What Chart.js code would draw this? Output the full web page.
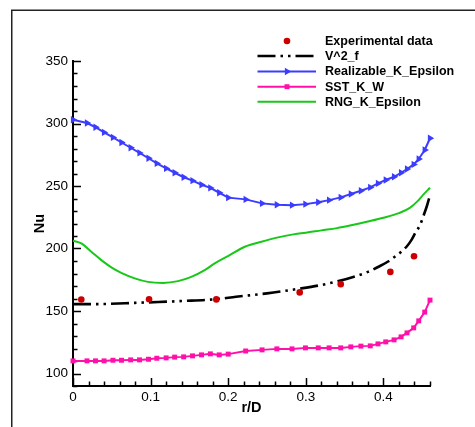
<!DOCTYPE html>
<html>
<head>
<meta charset="utf-8">
<script src="https://cdn.jsdelivr.net/npm/chart.js@4.4.0/dist/chart.umd.min.js"></script>
<style>
html,body{margin:0;padding:0;background:#fff;}
canvas{display:block;}
</style>
</head>
<body>
<canvas id="c" width="475" height="427"></canvas>
<script>
// ---- data ----
const xTicks = [0, 0.1, 0.2, 0.3, 0.4];
const yTicks = [100, 150, 200, 250, 300, 350];

const expX = [0.0107, 0.098, 0.1847, 0.2921, 0.345, 0.4089, 0.4394];
const expY = [159.2, 159.4, 159.3, 164.9, 171.5, 181.3, 193.8];

const v2fX = [0, 0.02, 0.04, 0.08, 0.11, 0.14, 0.185, 0.21, 0.25, 0.29, 0.32, 0.34, 0.36, 0.38, 0.395, 0.406, 0.415, 0.423, 0.43, 0.436, 0.442, 0.447, 0.452, 0.456, 0.46];
const v2fY = [155.5, 155.5, 155.6, 156.5, 157.2, 158.0, 159.5, 161.4, 164.1, 167.7, 170.8, 173.6, 177.0, 181.3, 185.8, 189.6, 193.6, 197.4, 201.6, 206.7, 213.5, 218.5, 226.8, 234.0, 242.5];

const meshX = [0, 0.018, 0.029, 0.040, 0.0515, 0.0625, 0.0743, 0.0857, 0.0973, 0.108, 0.12, 0.131, 0.1426, 0.154, 0.1656, 0.177, 0.1884, 0.2, 0.2225, 0.2436, 0.2627, 0.2822, 0.2995, 0.316, 0.33, 0.345, 0.358, 0.371, 0.383, 0.393, 0.403, 0.4137, 0.4227, 0.4304, 0.439, 0.4455, 0.4532, 0.46];
const realizableY = [303.0, 300.4, 297.0, 292.9, 288.9, 284.8, 280.6, 276.5, 272.2, 268.1, 264.1, 260.6, 257.0, 254.3, 251.0, 248.5, 244.6, 240.7, 239.3, 236.1, 235.0, 234.7, 235.5, 237.0, 238.7, 240.9, 243.6, 246.2, 248.9, 252.1, 254.8, 257.4, 260.6, 263.6, 267.3, 271.6, 278.8, 288.2];
const sstY = [110.1, 110.1, 110.1, 110.1, 110.6, 110.6, 110.9, 110.9, 111.4, 112.2, 112.5, 113.1, 113.3, 114.1, 114.9, 115.7, 114.9, 115.5, 118.0, 118.9, 119.7, 119.7, 120.5, 120.5, 120.5, 120.5, 121.3, 121.9, 122.1, 123.7, 125.3, 126.9, 129.3, 132.5, 136.5, 142.1, 149.1, 158.7];

const rngX = [0, 0.0107, 0.0236, 0.0365, 0.0494, 0.0622, 0.0795, 0.0966, 0.116, 0.1353, 0.1524, 0.1697, 0.1826, 0.1997, 0.2213, 0.2427, 0.2642, 0.2857, 0.3, 0.32, 0.34, 0.36, 0.38, 0.40, 0.42, 0.434, 0.445, 0.452, 0.46];
const rngY = [206.2, 204.1, 197.4, 190.7, 184.9, 180.5, 176.1, 173.3, 172.5, 173.9, 177.3, 182.7, 188.1, 193.9, 201.4, 205.4, 208.9, 211.5, 212.6, 214.5, 216.3, 218.8, 221.6, 224.6, 228.3, 232.5, 238.5, 243.5, 248.6];

const seriesNames = ['Experimental data', 'V^2_f', 'Realizable_K_Epsilon', 'SST_K_W', 'RNG_K_Epsilon'];

const pts = (xs, ys) => xs.map((x, i) => ({x: x, y: ys[i]}));

const FONT = "'Liberation Sans', Arial, Helvetica, sans-serif";

// inward ticks (major + minor) placed with the chart's own scales
const inwardTicks = {
  id: 'inwardTicks',
  beforeDatasetsDraw(chart) {
    const {ctx, chartArea: a, scales: {x, y}} = chart;
    ctx.save();
    ctx.strokeStyle = '#000';
    ctx.lineWidth = 1.5;
    ctx.beginPath();
    for (let i = 0; i <= 23; i++) {
      const v = i * 0.02;
      const major = (i % 5 === 0);
      const px = Math.round(x.getPixelForValue(v)) + 0.5;
      ctx.moveTo(px, a.bottom);
      ctx.lineTo(px, a.bottom - (major ? 8 : 4.5));
    }
    for (let v = 90; v <= 350; v += 10) {
      const major = (v % 50 === 0);
      const py = Math.round(y.getPixelForValue(v)) + 0.5;
      ctx.moveTo(a.left, py);
      ctx.lineTo(a.left + (major ? 8 : 4.5), py);
    }
    ctx.stroke();
    ctx.restore();
  }
};

const frame = {
  id: 'frame',
  beforeDraw(chart) {
    const ctx = chart.ctx;
    ctx.save();
    ctx.strokeStyle = '#222';
    ctx.lineWidth = 1.5;
    ctx.strokeRect(11.75, 10.25, 700, 700);
    ctx.restore();
  }
};

function drawMarker(ctx, style, x, y, r, color) {
  ctx.save();
  ctx.fillStyle = color;
  ctx.beginPath();
  if (style === 'circle') {
    ctx.arc(x, y, r, 0, Math.PI * 2);
  } else if (style === 'rect') {
    const s = r * Math.SQRT1_2;
    ctx.rect(x - s, y - s, 2 * s, 2 * s);
  } else if (style === 'triangle') {
    ctx.moveTo(x + r, y);
    ctx.lineTo(x - r * 0.5, y - r * 0.866);
    ctx.lineTo(x - r * 0.5, y + r * 0.866);
    ctx.closePath();
  }
  ctx.fill();
  ctx.restore();
}

const customLegend = {
  id: 'customLegend',
  afterDraw(chart) {
    const ctx = chart.ctx;
    const rows = [41, 56, 71.5, 86.7, 101.8];
    const x0 = 257.5, x1 = 316, xm = 287, xt = 325;
    chart.data.datasets.forEach((ds, i) => {
      const yy = rows[i];
      ctx.save();
      if (ds.showLine !== false) {
        ctx.strokeStyle = ds.borderColor;
        ctx.lineWidth = ds.borderWidth;
        ctx.setLineDash(ds.borderDash || []);
        ctx.beginPath();
        ctx.moveTo(x0, yy);
        ctx.lineTo(x1, yy);
        ctx.stroke();
      }
      ctx.restore();
      if (ds.pointRadius > 0) {
        drawMarker(ctx, ds.pointStyle, xm, yy, ds.pointRadius, ds.pointBackgroundColor);
      }
      ctx.save();
      ctx.fillStyle = '#000';
      ctx.font = 'bold 12.5px ' + FONT;
      ctx.textAlign = 'left';
      ctx.textBaseline = 'middle';
      ctx.fillText(ds.label, xt, yy + 0.5);
      ctx.restore();
    });
  }
};

new Chart(document.getElementById('c'), {
  type: 'scatter',
  data: {
    datasets: [
      {
        label: seriesNames[0],
        data: pts(expX, expY),
        showLine: false,
        pointStyle: 'circle',
        pointRadius: 3.3,
        pointBackgroundColor: '#cc0000',
        pointBorderWidth: 0,
        borderColor: '#cc0000',
        clip: false
      },
      {
        label: seriesNames[1],
        data: pts(v2fX, v2fY),
        showLine: true,
        borderColor: '#000',
        borderWidth: 2.6,
        borderDash: [18, 5, 2.5, 5, 2.5, 5],
        cubicInterpolationMode: 'monotone',
        pointRadius: 0,
        clip: false
      },
      {
        label: seriesNames[2],
        data: pts(meshX, realizableY),
        showLine: true,
        borderColor: '#3c3cff',
        borderWidth: 2,
        tension: 0,
        pointStyle: 'triangle',
        rotation: 90,
        pointRadius: 4.2,
        pointBackgroundColor: '#3c3cff',
        pointBorderWidth: 0,
        clip: false
      },
      {
        label: seriesNames[3],
        data: pts(meshX, sstY),
        showLine: true,
        borderColor: '#ff10a8',
        borderWidth: 2,
        tension: 0,
        pointStyle: 'rect',
        pointRadius: 3.5,
        pointBackgroundColor: '#ff10a8',
        pointBorderWidth: 0,
        clip: false
      },
      {
        label: seriesNames[4],
        data: pts(rngX, rngY),
        showLine: true,
        borderColor: '#18c818',
        borderWidth: 2,
        cubicInterpolationMode: 'monotone',
        pointRadius: 0,
        clip: false
      }
    ]
  },
  options: {
    responsive: false,
    animation: false,
    devicePixelRatio: 1,
    layout: {padding: {left: 31, top: 61, right: 45, bottom: 10}},
    plugins: {legend: {display: false}, tooltip: {enabled: false}},
    elements: {point: {hoverRadius: 0}},
    scales: {
      x: {
        type: 'linear',
        min: 0,
        max: 0.46,
        afterBuildTicks: s => { s.ticks = xTicks.map(v => ({value: v})); },
        afterFit: s => { s.height = 31; },
        grid: {drawOnChartArea: false, drawTicks: false, color: 'rgba(0,0,0,0)'},
        border: {display: true, color: '#000', width: 2},
        ticks: {
          color: '#000',
          padding: 3,
          maxRotation: 0,
          autoSkip: false,
          font: {family: FONT, size: 13.5},
          callback: v => (v === 0 ? '0' : String(Math.round(v * 10) / 10))
        },
        title: {display: true, text: 'r/D', color: '#000', padding: {top: 0, bottom: 0},
                font: {family: FONT, size: 14.5, weight: 'bold'}}
      },
      y: {
        type: 'linear',
        min: 90,
        max: 350,
        afterBuildTicks: s => { s.ticks = yTicks.map(v => ({value: v})); },
        afterFit: s => { s.width = 42; },
        grid: {drawOnChartArea: false, drawTicks: false, color: 'rgba(0,0,0,0)'},
        border: {display: true, color: '#000', width: 2},
        ticks: {
          color: '#000',
          padding: 5,
          autoSkip: false,
          font: {family: FONT, size: 13.5},
          callback: v => String(v)
        },
        title: {display: true, text: 'Nu', color: '#000', padding: {top: 0, bottom: 0},
                font: {family: FONT, size: 14.5, weight: 'bold'}}
      }
    }
  },
  plugins: [frame, inwardTicks, customLegend]
});
</script>
</body>
</html>
